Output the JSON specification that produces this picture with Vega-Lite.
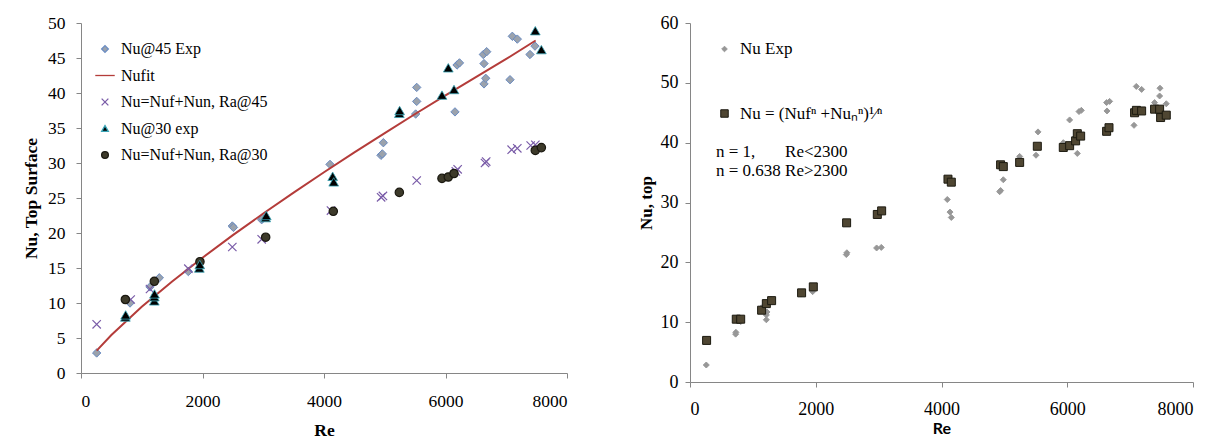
{
  "$schema": "https://vega.github.io/schema/vega-lite/v6.json",
  "background": "white",
  "padding": {"left": 22, "top": 14, "right": 0, "bottom": 0},
  "spacing": 69,
  "resolve": {
    "scale": {"x": "independent", "y": "independent", "fill": "independent", "stroke": "independent", "shape": "independent"},
    "legend": {"fill": "independent", "stroke": "independent", "shape": "independent"}
  },
  "config": {
    "view": {"stroke": null},
    "axis": {
      "grid": false,
      "format": "d",
      "labelFont": "Liberation Serif",
      "labelFontSize": 17.5,
      "labelColor": "#000000",
      "domainColor": "#868686",
      "tickColor": "#868686",
      "tickSize": 5,
      "titleFont": "Liberation Serif",
      "titleFontSize": 17.5,
      "titleFontWeight": "bold",
      "titleColor": "#000000"
    }
  },
  "datasets": {
    "left": [
      {"series": "Nu@45 Exp", "Re": 258, "Nu": 2.86},
      {"series": "Nu@45 Exp", "Re": 807, "Nu": 10.0},
      {"series": "Nu@45 Exp", "Re": 1136, "Nu": 12.3},
      {"series": "Nu@45 Exp", "Re": 1289, "Nu": 13.6},
      {"series": "Nu@45 Exp", "Re": 1767, "Nu": 14.5},
      {"series": "Nu@45 Exp", "Re": 2491, "Nu": 21.0},
      {"series": "Nu@45 Exp", "Re": 2510, "Nu": 20.8},
      {"series": "Nu@45 Exp", "Re": 2974, "Nu": 21.9},
      {"series": "Nu@45 Exp", "Re": 2990, "Nu": 22.1},
      {"series": "Nu@45 Exp", "Re": 4099, "Nu": 29.8},
      {"series": "Nu@45 Exp", "Re": 4938, "Nu": 31.1},
      {"series": "Nu@45 Exp", "Re": 4960, "Nu": 31.3},
      {"series": "Nu@45 Exp", "Re": 4977, "Nu": 32.9},
      {"series": "Nu@45 Exp", "Re": 5509, "Nu": 37.0},
      {"series": "Nu@45 Exp", "Re": 5526, "Nu": 38.8},
      {"series": "Nu@45 Exp", "Re": 5526, "Nu": 40.8},
      {"series": "Nu@45 Exp", "Re": 6156, "Nu": 37.3},
      {"series": "Nu@45 Exp", "Re": 6190, "Nu": 44.0},
      {"series": "Nu@45 Exp", "Re": 6230, "Nu": 44.3},
      {"series": "Nu@45 Exp", "Re": 6634, "Nu": 41.3},
      {"series": "Nu@45 Exp", "Re": 6662, "Nu": 42.1},
      {"series": "Nu@45 Exp", "Re": 6634, "Nu": 44.2},
      {"series": "Nu@45 Exp", "Re": 6623, "Nu": 45.5},
      {"series": "Nu@45 Exp", "Re": 6678, "Nu": 45.9},
      {"series": "Nu@45 Exp", "Re": 7062, "Nu": 41.9},
      {"series": "Nu@45 Exp", "Re": 7100, "Nu": 48.1},
      {"series": "Nu@45 Exp", "Re": 7182, "Nu": 47.7},
      {"series": "Nu@45 Exp", "Re": 7391, "Nu": 45.5},
      {"series": "Nu@45 Exp", "Re": 7473, "Nu": 46.7},
      {"series": "Nufit", "Re": 258, "Nu": 3.2},
      {"series": "Nufit", "Re": 500, "Nu": 5.43},
      {"series": "Nufit", "Re": 1000, "Nu": 9.46},
      {"series": "Nufit", "Re": 1500, "Nu": 13.08},
      {"series": "Nufit", "Re": 2000, "Nu": 16.47},
      {"series": "Nufit", "Re": 2500, "Nu": 19.69},
      {"series": "Nufit", "Re": 3000, "Nu": 22.78},
      {"series": "Nufit", "Re": 3500, "Nu": 25.77},
      {"series": "Nufit", "Re": 4000, "Nu": 28.68},
      {"series": "Nufit", "Re": 4500, "Nu": 31.51},
      {"series": "Nufit", "Re": 5000, "Nu": 34.27},
      {"series": "Nufit", "Re": 5500, "Nu": 37.0},
      {"series": "Nufit", "Re": 6000, "Nu": 39.65},
      {"series": "Nufit", "Re": 6500, "Nu": 42.27},
      {"series": "Nufit", "Re": 7000, "Nu": 44.87},
      {"series": "Nufit", "Re": 7484, "Nu": 47.5},
      {"series": "Nu=Nuf+Nun, Ra@45", "Re": 258, "Nu": 6.95},
      {"series": "Nu=Nuf+Nun, Ra@45", "Re": 818, "Nu": 10.5},
      {"series": "Nu=Nuf+Nun, Ra@45", "Re": 1136, "Nu": 12.0},
      {"series": "Nu=Nuf+Nun, Ra@45", "Re": 1767, "Nu": 14.9},
      {"series": "Nu=Nuf+Nun, Ra@45", "Re": 2491, "Nu": 18.0},
      {"series": "Nu=Nuf+Nun, Ra@45", "Re": 2974, "Nu": 19.1},
      {"series": "Nu=Nuf+Nun, Ra@45", "Re": 4115, "Nu": 23.2},
      {"series": "Nu=Nuf+Nun, Ra@45", "Re": 4940, "Nu": 25.1},
      {"series": "Nu=Nuf+Nun, Ra@45", "Re": 4970, "Nu": 25.3},
      {"series": "Nu=Nuf+Nun, Ra@45", "Re": 5526, "Nu": 27.5},
      {"series": "Nu=Nuf+Nun, Ra@45", "Re": 6170, "Nu": 28.8},
      {"series": "Nu=Nuf+Nun, Ra@45", "Re": 6200, "Nu": 29.1},
      {"series": "Nu=Nuf+Nun, Ra@45", "Re": 6650, "Nu": 30.0},
      {"series": "Nu=Nuf+Nun, Ra@45", "Re": 6670, "Nu": 30.2},
      {"series": "Nu=Nuf+Nun, Ra@45", "Re": 7089, "Nu": 31.9},
      {"series": "Nu=Nuf+Nun, Ra@45", "Re": 7182, "Nu": 32.1},
      {"series": "Nu=Nuf+Nun, Ra@45", "Re": 7402, "Nu": 32.5},
      {"series": "Nu=Nuf+Nun, Ra@45", "Re": 7479, "Nu": 32.6},
      {"series": "Nu@30 exp", "Re": 730, "Nu": 8.0},
      {"series": "Nu@30 exp", "Re": 735, "Nu": 8.3},
      {"series": "Nu@30 exp", "Re": 1207, "Nu": 10.3},
      {"series": "Nu@30 exp", "Re": 1207, "Nu": 10.9},
      {"series": "Nu@30 exp", "Re": 1210, "Nu": 11.3},
      {"series": "Nu@30 exp", "Re": 1948, "Nu": 15.0},
      {"series": "Nu@30 exp", "Re": 1955, "Nu": 15.5},
      {"series": "Nu@30 exp", "Re": 3040, "Nu": 22.2},
      {"series": "Nu@30 exp", "Re": 3050, "Nu": 22.5},
      {"series": "Nu@30 exp", "Re": 4143, "Nu": 28.1},
      {"series": "Nu@30 exp", "Re": 4160, "Nu": 27.3},
      {"series": "Nu@30 exp", "Re": 5240, "Nu": 37.1},
      {"series": "Nu@30 exp", "Re": 5245, "Nu": 37.5},
      {"series": "Nu@30 exp", "Re": 5942, "Nu": 39.7},
      {"series": "Nu@30 exp", "Re": 6046, "Nu": 43.6},
      {"series": "Nu@30 exp", "Re": 6140, "Nu": 40.5},
      {"series": "Nu@30 exp", "Re": 7478, "Nu": 48.9},
      {"series": "Nu@30 exp", "Re": 7578, "Nu": 46.2},
      {"series": "Nu=Nuf+Nun, Ra@30", "Re": 730, "Nu": 10.5},
      {"series": "Nu=Nuf+Nun, Ra@30", "Re": 1207, "Nu": 13.1},
      {"series": "Nu=Nuf+Nun, Ra@30", "Re": 1958, "Nu": 15.9},
      {"series": "Nu=Nuf+Nun, Ra@30", "Re": 3040, "Nu": 19.4},
      {"series": "Nu=Nuf+Nun, Ra@30", "Re": 4153, "Nu": 23.1},
      {"series": "Nu=Nuf+Nun, Ra@30", "Re": 5240, "Nu": 25.8},
      {"series": "Nu=Nuf+Nun, Ra@30", "Re": 5942, "Nu": 27.8},
      {"series": "Nu=Nuf+Nun, Ra@30", "Re": 6046, "Nu": 28.0},
      {"series": "Nu=Nuf+Nun, Ra@30", "Re": 6140, "Nu": 28.5},
      {"series": "Nu=Nuf+Nun, Ra@30", "Re": 7478, "Nu": 31.8},
      {"series": "Nu=Nuf+Nun, Ra@30", "Re": 7578, "Nu": 32.2}
    ],
    "right": [
      {"kind": "Nu Exp", "Re": 259, "Nu": 2.84},
      {"kind": "Nu Exp", "Re": 726, "Nu": 8.0},
      {"kind": "Nu Exp", "Re": 730, "Nu": 8.3},
      {"kind": "Nu Exp", "Re": 807, "Nu": 10.1},
      {"kind": "Nu Exp", "Re": 1214, "Nu": 10.4},
      {"kind": "Nu Exp", "Re": 1214, "Nu": 11.2},
      {"kind": "Nu Exp", "Re": 1225, "Nu": 11.7},
      {"kind": "Nu Exp", "Re": 1136, "Nu": 12.4},
      {"kind": "Nu Exp", "Re": 1289, "Nu": 13.8},
      {"kind": "Nu Exp", "Re": 1767, "Nu": 14.7},
      {"kind": "Nu Exp", "Re": 1950, "Nu": 15.1},
      {"kind": "Nu Exp", "Re": 1955, "Nu": 15.5},
      {"kind": "Nu Exp", "Re": 2486, "Nu": 21.3},
      {"kind": "Nu Exp", "Re": 2495, "Nu": 21.6},
      {"kind": "Nu Exp", "Re": 2968, "Nu": 22.4},
      {"kind": "Nu Exp", "Re": 3042, "Nu": 22.5},
      {"kind": "Nu Exp", "Re": 4092, "Nu": 30.5},
      {"kind": "Nu Exp", "Re": 4135, "Nu": 28.4},
      {"kind": "Nu Exp", "Re": 4156, "Nu": 27.5},
      {"kind": "Nu Exp", "Re": 4925, "Nu": 31.8},
      {"kind": "Nu Exp", "Re": 4940, "Nu": 32.0},
      {"kind": "Nu Exp", "Re": 4983, "Nu": 33.8},
      {"kind": "Nu Exp", "Re": 5243, "Nu": 37.7},
      {"kind": "Nu Exp", "Re": 5503, "Nu": 37.9},
      {"kind": "Nu Exp", "Re": 5535, "Nu": 41.8},
      {"kind": "Nu Exp", "Re": 5937, "Nu": 40.0},
      {"kind": "Nu Exp", "Re": 6038, "Nu": 43.8},
      {"kind": "Nu Exp", "Re": 6160, "Nu": 38.2},
      {"kind": "Nu Exp", "Re": 6187, "Nu": 45.2},
      {"kind": "Nu Exp", "Re": 6224, "Nu": 45.4},
      {"kind": "Nu Exp", "Re": 6632, "Nu": 45.3},
      {"kind": "Nu Exp", "Re": 6626, "Nu": 46.7},
      {"kind": "Nu Exp", "Re": 6674, "Nu": 46.9},
      {"kind": "Nu Exp", "Re": 7062, "Nu": 42.9},
      {"kind": "Nu Exp", "Re": 7098, "Nu": 49.4},
      {"kind": "Nu Exp", "Re": 7183, "Nu": 48.9},
      {"kind": "Nu Exp", "Re": 7389, "Nu": 46.7},
      {"kind": "Nu Exp", "Re": 7475, "Nu": 49.1},
      {"kind": "Nu Exp", "Re": 7469, "Nu": 47.8},
      {"kind": "Nu Exp", "Re": 7575, "Nu": 46.5},
      {"kind": "Nu model", "Re": 264, "Nu": 6.95},
      {"kind": "Nu model", "Re": 736, "Nu": 10.5},
      {"kind": "Nu model", "Re": 806, "Nu": 10.5},
      {"kind": "Nu model", "Re": 1139, "Nu": 12.0},
      {"kind": "Nu model", "Re": 1214, "Nu": 13.1},
      {"kind": "Nu model", "Re": 1298, "Nu": 13.6},
      {"kind": "Nu model", "Re": 1775, "Nu": 14.9},
      {"kind": "Nu model", "Re": 1961, "Nu": 15.9},
      {"kind": "Nu model", "Re": 2491, "Nu": 26.6},
      {"kind": "Nu model", "Re": 2979, "Nu": 28.0},
      {"kind": "Nu model", "Re": 3048, "Nu": 28.6},
      {"kind": "Nu model", "Re": 4103, "Nu": 33.9},
      {"kind": "Nu model", "Re": 4156, "Nu": 33.4},
      {"kind": "Nu model", "Re": 4940, "Nu": 36.3},
      {"kind": "Nu model", "Re": 4983, "Nu": 36.0},
      {"kind": "Nu model", "Re": 5243, "Nu": 36.7},
      {"kind": "Nu model", "Re": 5524, "Nu": 39.4},
      {"kind": "Nu model", "Re": 5937, "Nu": 39.2},
      {"kind": "Nu model", "Re": 6038, "Nu": 39.5},
      {"kind": "Nu model", "Re": 6133, "Nu": 40.3},
      {"kind": "Nu model", "Re": 6160, "Nu": 41.5},
      {"kind": "Nu model", "Re": 6213, "Nu": 41.1},
      {"kind": "Nu model", "Re": 6626, "Nu": 41.9},
      {"kind": "Nu model", "Re": 6664, "Nu": 42.5},
      {"kind": "Nu model", "Re": 7071, "Nu": 45.0},
      {"kind": "Nu model", "Re": 7100, "Nu": 45.4},
      {"kind": "Nu model", "Re": 7183, "Nu": 45.3},
      {"kind": "Nu model", "Re": 7389, "Nu": 45.6},
      {"kind": "Nu model", "Re": 7469, "Nu": 45.6},
      {"kind": "Nu model", "Re": 7485, "Nu": 44.2},
      {"kind": "Nu model", "Re": 7575, "Nu": 44.6}
    ]
  },
  "hconcat": [
    {
      "width": 486,
      "height": 350,
      "data": {"name": "left"},
      "encoding": {
        "x": {"field": "Re", "type": "quantitative", "scale": {"domain": [0, 8000], "nice": false},
              "axis": {"values": [0, 2000, 4000, 6000, 8000], "title": "Re", "labelPadding": 14, "titlePadding": 12}},
        "y": {"field": "Nu", "type": "quantitative", "scale": {"domain": [0, 50], "nice": false},
              "axis": {"values": [0, 5, 10, 15, 20, 25, 30, 35, 40, 45, 50], "title": "Nu, Top Surface", "labelPadding": 11, "titlePadding": 7}}
      },
      "layer": [
        {
          "transform": [{"filter": "datum.series === 'Nu@45 Exp'"}],
          "mark": {"type": "point", "size": 70, "strokeWidth": 1, "opacity": 1},
          "encoding": {
            "fill": {"field": "series", "type": "nominal", "scale": {"domain": ["Nu@45 Exp", "Nufit", "Nu=Nuf+Nun, Ra@45", "Nu@30 exp", "Nu=Nuf+Nun, Ra@30"], "range": ["#9ba2ac", "transparent", "transparent", "#000000", "#3d3a2a"]},
                     "legend": {"title": null, "orient": "none", "legendX": 16, "legendY": 18, "labelFont": "Liberation Serif", "labelFontSize": 16, "labelColor": "#000000", "labelLimit": 400, "symbolSize": 45, "symbolStrokeWidth": 1.3, "rowPadding": 10.5, "labelOffset": 8}},
            "stroke": {"field": "series", "type": "nominal", "scale": {"domain": ["Nu@45 Exp", "Nufit", "Nu=Nuf+Nun, Ra@45", "Nu@30 exp", "Nu=Nuf+Nun, Ra@30"], "range": ["#6a8cc2", "#b43c3a", "#7a5ca8", "#3aa6b8", "#1a1810"]},
                       "legend": {"title": null, "orient": "none", "legendX": 16, "legendY": 18, "labelFont": "Liberation Serif", "labelFontSize": 16, "labelColor": "#000000", "labelLimit": 400, "symbolSize": 45, "symbolStrokeWidth": 1.3, "rowPadding": 10.5, "labelOffset": 8}},
            "shape": {"field": "series", "type": "nominal", "scale": {"domain": ["Nu@45 Exp", "Nufit", "Nu=Nuf+Nun, Ra@45", "Nu@30 exp", "Nu=Nuf+Nun, Ra@30"], "range": ["diamond", "M-2.9,0H2.9", "M-1,-1L1,1M-1,1L1,-1", "triangle-up", "circle"]},
                      "legend": {"title": null, "orient": "none", "legendX": 16, "legendY": 18, "labelFont": "Liberation Serif", "labelFontSize": 16, "labelColor": "#000000", "labelLimit": 400, "symbolSize": 45, "symbolStrokeWidth": 1.3, "rowPadding": 10.5, "labelOffset": 8}}
          }
        },
        {
          "transform": [{"filter": "datum.series === 'Nufit'"}],
          "mark": {"type": "line", "strokeWidth": 2},
          "encoding": {
            "stroke": {"field": "series", "type": "nominal"}
          }
        },
        {
          "transform": [{"filter": "datum.series !== 'Nufit' && datum.series !== 'Nu@45 Exp' && datum.series !== 'Nu@30 exp'"}],
          "mark": {"type": "point", "size": 70, "strokeWidth": 1.2, "opacity": 1},
          "encoding": {
            "fill": {"field": "series", "type": "nominal"},
            "stroke": {"field": "series", "type": "nominal"},
            "shape": {"field": "series", "type": "nominal"}
          }
        },
        {
          "transform": [{"filter": "datum.series === 'Nu@30 exp'"}],
          "mark": {"type": "point", "size": 95, "strokeWidth": 0.8, "opacity": 1},
          "encoding": {
            "fill": {"field": "series", "type": "nominal"},
            "stroke": {"field": "series", "type": "nominal"},
            "shape": {"field": "series", "type": "nominal"}
          }
        }
      ]
    },
    {
      "width": 503,
      "height": 359,
      "data": {"name": "right"},
      "mark": {"type": "point", "size": 64, "strokeWidth": 1, "opacity": 1},
      "encoding": {
        "x": {"field": "Re", "type": "quantitative", "scale": {"domain": [0, 8000], "nice": false},
              "axis": {"values": [0, 2000, 4000, 6000, 8000], "title": "Re", "labelFontSize": 18, "labelPadding": 13, "titlePadding": 2, "titleFont": "Lato", "titleFontSize": 16}},
        "y": {"field": "Nu", "type": "quantitative", "scale": {"domain": [0, 60], "nice": false},
              "axis": {"values": [0, 10, 20, 30, 40, 50, 60], "title": "Nu, top", "labelFontSize": 18, "labelPadding": 7, "titlePadding": 5, "titleFontSize": 17}},
        "fill": {"field": "kind", "type": "nominal", "scale": {"domain": ["Nu Exp", "Nu model"], "range": ["#979797", "#4f4632"]},
                 "legend": {"title": ["n\u00a0=\u00a01,\u00a0\u00a0\u00a0\u00a0\u00a0\u00a0\u00a0Re<2300", "n\u00a0=\u00a00.638\u00a0Re>2300"], "titleOrient": "bottom", "titleAnchor": "start", "titleAlign": "left", "titleFont": "Liberation Serif", "titleFontWeight": "normal", "titleFontSize": 17, "titleLineHeight": 19, "titlePadding": 22, "titleColor": "#000000", "orient": "none", "legendX": 26, "legendY": 17.5, "labelFont": "Liberation Serif", "labelFontSize": 17, "labelColor": "#000000", "labelLimit": 400, "symbolSize": 56, "symbolStrokeWidth": 1, "rowPadding": 46.5, "labelOffset": 7,
                   "labelExpr": "datum.label === 'Nu model' ? 'Nu = (Nufⁿ +Nuₙⁿ)¹⁄ⁿ' : datum.label",
                   "encode": {"title": {"update": {"dx": {"value": 14}}}}}},
        "stroke": {"field": "kind", "type": "nominal", "scale": {"domain": ["Nu Exp", "Nu model"], "range": ["#9a9a9a", "#1c1a10"]},
                   "legend": {"title": ["n\u00a0=\u00a01,\u00a0\u00a0\u00a0\u00a0\u00a0\u00a0\u00a0Re<2300", "n\u00a0=\u00a00.638\u00a0Re>2300"], "titleOrient": "bottom", "titleAnchor": "start", "titleAlign": "left", "titleFont": "Liberation Serif", "titleFontWeight": "normal", "titleFontSize": 17, "titleLineHeight": 19, "titlePadding": 22, "titleColor": "#000000", "orient": "none", "legendX": 26, "legendY": 17.5, "labelFont": "Liberation Serif", "labelFontSize": 17, "labelColor": "#000000", "labelLimit": 400, "symbolSize": 56, "symbolStrokeWidth": 1, "rowPadding": 46.5, "labelOffset": 7,
                   "labelExpr": "datum.label === 'Nu model' ? 'Nu = (Nufⁿ +Nuₙⁿ)¹⁄ⁿ' : datum.label",
                   "encode": {"title": {"update": {"dx": {"value": 14}}}}}},
        "shape": {"field": "kind", "type": "nominal", "scale": {"domain": ["Nu Exp", "Nu model"], "range": ["M0,-0.75L0.75,0L0,0.75L-0.75,0Z", "square"]},
                  "legend": {"title": ["n\u00a0=\u00a01,\u00a0\u00a0\u00a0\u00a0\u00a0\u00a0\u00a0Re<2300", "n\u00a0=\u00a00.638\u00a0Re>2300"], "titleOrient": "bottom", "titleAnchor": "start", "titleAlign": "left", "titleFont": "Liberation Serif", "titleFontWeight": "normal", "titleFontSize": 17, "titleLineHeight": 19, "titlePadding": 22, "titleColor": "#000000", "orient": "none", "legendX": 26, "legendY": 17.5, "labelFont": "Liberation Serif", "labelFontSize": 17, "labelColor": "#000000", "labelLimit": 400, "symbolSize": 56, "symbolStrokeWidth": 1, "rowPadding": 46.5, "labelOffset": 7,
                   "labelExpr": "datum.label === 'Nu model' ? 'Nu = (Nufⁿ +Nuₙⁿ)¹⁄ⁿ' : datum.label",
                   "encode": {"title": {"update": {"dx": {"value": 14}}}}}}
      }
    }
  ]
}
